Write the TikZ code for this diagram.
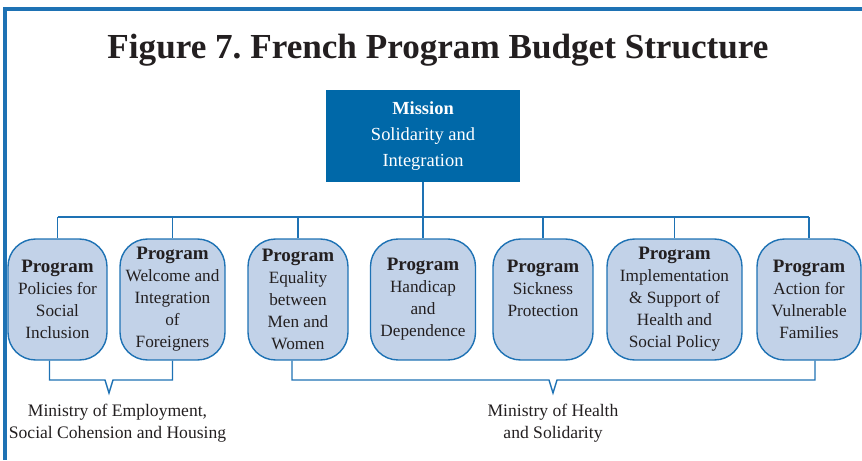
\documentclass[tikz,border=0pt]{standalone}
\usepackage{fontspec}
\setmainfont{Liberation Serif}
\usepackage{tikz}
\usetikzlibrary{positioning, calc}
\definecolor{myblue}{RGB}{0,104,168}
\definecolor{myline}{RGB}{30,114,180}
\definecolor{mylight}{RGB}{194,210,232}
\definecolor{mydark}{RGB}{35,31,32}
\tikzset{
  mission/.style={rectangle, fill=myblue, text=white, align=center,
    minimum width=3.88cm, minimum height=1.84cm, inner sep=0pt,
    font=\fontsize{10.5}{14.6}\selectfont},
  prog/.style={rectangle, draw=myline, fill=mylight, text=mydark,
    align=center, minimum width=#1, minimum height=2.42cm, inner sep=0pt,
    font=\fontsize{9.8}{12.5}\selectfont, rounded corners=0.55cm, line width=0.8pt},
  ministry/.style={align=center, text=mydark, inner sep=0pt,
    font=\fontsize{10}{12.5}\selectfont},
  frame/.style={myline, line width=1.8pt},
  line/.style={myline, line width=0.8pt}
}
\newcommand{\progtitle}{{\fontsize{10.8}{12.5}\selectfont\bfseries Program}}

\begin{document}
\begin{tikzpicture}[x=0.02cm, y=-0.02cm]
  \useasboundingbox (0,0) rectangle (862,460);
  \draw[frame] (862,9) -- (5,9) -- (5,460);

  \node[text=mydark, font=\fontsize{20}{24}\selectfont\bfseries] (title) at (438,50)
    {Figure 7.\ French Program Budget Structure};

  \node[mission] (mis) at (423,136) {{\bfseries Mission}\\Solidarity and\\Integration};

  \node[prog=1.98cm] (incl)  at (57.5,299.5) {\progtitle\\Policies for\\Social\\Inclusion};
  \node[prog=2.1cm]  (welc)  at (172.5,299.5) {\progtitle\\Welcome and\\Integration\\of\\Foreigners};
  \node[prog=2.0cm]  (equal) at (298,299.5) {\progtitle\\Equality\\between\\Men and\\Women};
  \node[prog=2.1cm]  (handi) at (423,299.5) {\progtitle\\Handicap\\and\\Dependence};
  \node[prog=2.0cm]  (sick)  at (543,299.5) {\progtitle\\Sickness\\Protection\\\mbox{}};
  \node[prog=2.7cm]  (impl)  at (674.5,299.5) {\progtitle\\Implementation\\\& Support of\\Health and\\Social Policy};
  \node[prog=2.08cm] (fam)   at (809,299.5) {\progtitle\\Action for\\Vulnerable\\Families};

  \coordinate (bus) at (423,217);
  \draw[line] (mis.south) -- (handi.north);
  \draw[line] (incl.north |- bus) -- (fam.north |- bus);
  \foreach \p in {incl, welc, equal, sick, impl, fam}
    \draw[line] (\p.north) -- (\p.north |- bus);

  \coordinate (lnotch) at (109,393);
  \coordinate (rnotch) at (553,393);
  \draw[line] ([xshift=-0.16cm]incl.south) |- ($(lnotch)+(-4,-13)$) -- (lnotch)
    -- ($(lnotch)+(4,-13)$) -| (welc.south);
  \draw[line] ([xshift=-0.12cm]equal.south) |- ($(rnotch)+(-4,-13)$) -- (rnotch)
    -- ($(rnotch)+(4,-13)$) -| ([xshift=0.12cm]fam.south);

  \node[ministry, below=0.22cm of lnotch, xshift=0.17cm] (emp) {Ministry of Employment,\\Social Cohension and Housing};
  \node[ministry, below=0.22cm of rnotch] (health) {Ministry of Health\\and Solidarity};
\end{tikzpicture}
\end{document}
